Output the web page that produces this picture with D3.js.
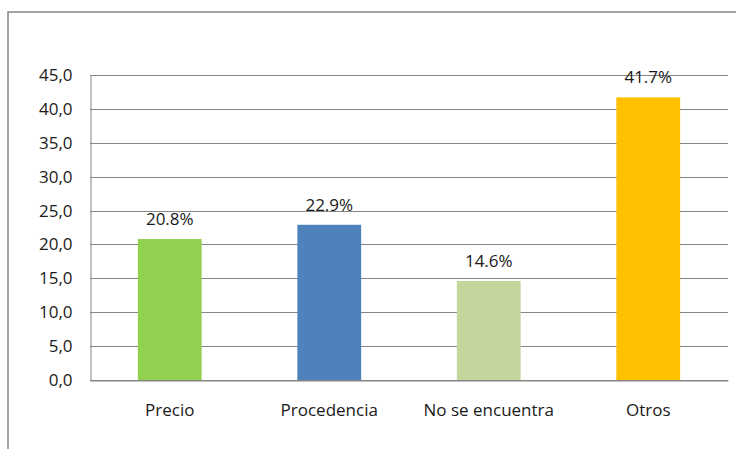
<!DOCTYPE html>
<html>
<head>
<meta charset="utf-8">
<script src="https://cdn.jsdelivr.net/npm/d3@7"></script>
<style>
  html, body { margin: 0; padding: 0; background: #fff; }
  svg { display: block; font-family: "Open Sans", "Noto Sans", sans-serif; }
</style>
</head>
<body>
<svg id="chart" width="736" height="449"></svg>
<script>
// Motivos: porcentaje de respuestas por categoría
const categories = ["Precio", "Procedencia", "No se encuentra", "Otros"];
const values = [20.8, 22.9, 14.6, 41.7];
const valueLabels = ["20.8%", "22.9%", "14.6%", "41.7%"];
const barColors = ["#92D050", "#4F81BD", "#C3D69B", "#FFC000"];
const yTicks = [0, 5, 10, 15, 20, 25, 30, 35, 40, 45];
const yTickLabels = ["0,0", "5,0", "10,0", "15,0", "20,0", "25,0", "30,0", "35,0", "40,0", "45,0"];

const svg = d3.select("#chart");
const W = 736, H = 449;
const plot = { left: 90, right: 728, top: 75, bottom: 380 };
const fontSize = 17;
const textColor = "#1a1a1a";

// chart frame
svg.append("rect")
  .attr("x", 8).attr("y", 12)
  .attr("width", W + 10).attr("height", H + 10)
  .attr("fill", "none")
  .attr("stroke", "#868686")
  .attr("stroke-width", 1.5);

const x = d3.scaleBand()
  .domain(categories)
  .range([plot.left, plot.right])
  .paddingInner(0.6)
  .paddingOuter(0.3);

const y = d3.scaleLinear()
  .domain([0, 45])
  .range([plot.bottom, plot.top]);

// horizontal gridlines
svg.append("g")
  .selectAll("line")
  .data(yTicks)
  .join("line")
  .attr("x1", plot.left).attr("x2", plot.right)
  .attr("y1", d => Math.round(y(d)) + 0.5)
  .attr("y2", d => Math.round(y(d)) + 0.5)
  .attr("stroke", "#868686")
  .attr("stroke-width", 1);

// y axis
const yAxis = d3.axisLeft(y)
  .tickValues(yTicks)
  .tickFormat((d, i) => yTickLabels[i])
  .tickSize(0)
  .tickPadding(18);

const gy = svg.append("g")
  .attr("transform", `translate(${plot.left + 0.5},0)`)
  .call(yAxis);
gy.select(".domain").attr("stroke", "#868686");
gy.selectAll("text")
  .attr("font-size", fontSize)
  .attr("fill", textColor)
  .attr("font-family", "\"Open Sans\", sans-serif");

// bars
svg.append("g")
  .selectAll("rect")
  .data(values)
  .join("rect")
  .attr("x", (d, i) => x(categories[i]))
  .attr("y", d => y(d))
  .attr("width", x.bandwidth())
  .attr("height", d => y(0) - y(d))
  .attr("fill", (d, i) => barColors[i]);

// value labels
svg.append("g")
  .selectAll("text")
  .data(values)
  .join("text")
  .attr("x", (d, i) => x(categories[i]) + x.bandwidth() / 2)
  .attr("y", d => y(d) - 14)
  .attr("text-anchor", "middle")
  .attr("font-size", fontSize)
  .attr("fill", textColor)
  .text((d, i) => valueLabels[i]);

// x axis
const xAxis = d3.axisBottom(x).tickSize(0).tickPadding(23);
const gx = svg.append("g")
  .attr("transform", `translate(0,${Math.round(y(0)) + 0.5})`)
  .call(xAxis);
gx.select(".domain").attr("stroke", "#868686");
gx.selectAll("text")
  .attr("font-size", fontSize)
  .attr("fill", textColor)
  .attr("font-family", "\"Open Sans\", sans-serif");
</script>
</body>
</html>
